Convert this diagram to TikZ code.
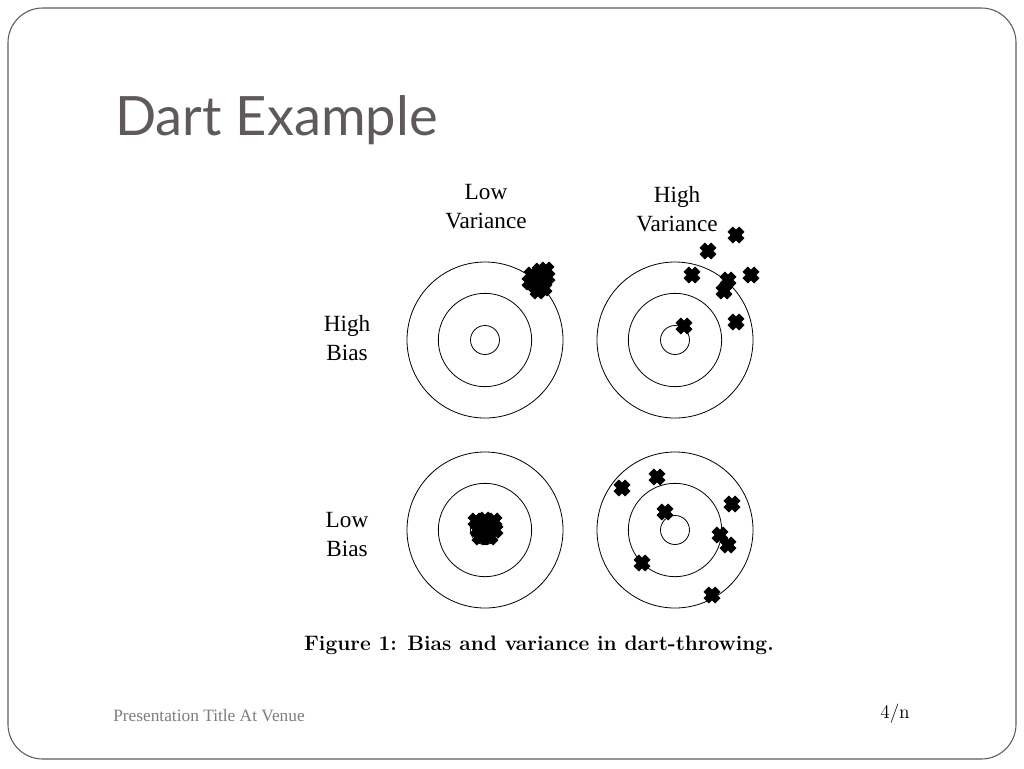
\documentclass[tikz,border=0pt]{standalone}
\usepackage{fontspec}
\newfontfamily\labelfont{Liberation Serif}
\newfontfamily\titlefont{Lato}
\usetikzlibrary{positioning}

\definecolor{titlegray}{RGB}{95,89,89}
\definecolor{framegray}{RGB}{90,90,90}
\definecolor{footgray}{RGB}{125,125,125}

\tikzset{
  dart/.pic={
    \draw[line width=5.6pt] (-5.8,-5.8) -- (5.8,5.8) (-5.8,5.8) -- (5.8,-5.8);
  }
}

\begin{document}
\begin{tikzpicture}[
      x=0.75pt, y=-0.75pt,
      ring/.style={circle, draw, line width=0.6pt, inner sep=0pt},
      axislabel/.style={font=\labelfont\fontsize{17.4}{21.75}\selectfont, align=center, anchor=base, inner sep=0pt}
    ]
    \useasboundingbox (0,0) rectangle (1024,768);

    % Slide frame and title
    \draw[framegray, line width=0.8pt, rounded corners=26pt] (8,8) rectangle (1016,759);
    \node[anchor=base west, inner sep=0pt, text=titlegray, font=\titlefont\fontsize{40.7}{48}\selectfont] (title) at (115,135) {Dart Example};

    % Targets: outer, middle and inner rings
    \foreach \name/\x/\y in {hblv/485/340, hbhv/675/340, lblv/485/530, lbhv/675/530} {
      \node[ring, minimum size=117pt] (\name) at (\x,\y) {};
      \node[ring, minimum size=70pt] (\name-mid) at (\x,\y) {};
      \node[ring, minimum size=21.75pt] (\name-in) at (\x,\y) {};
    }

    % Column and row headings (base = last line)
    \node[axislabel] (lowvar) at (486,228) {Low\\ Variance};
    \node[axislabel] (highvar) at (677,231) {High\\ Variance};
    \node[axislabel] (highbias) at (347,360) {High\\ Bias};
    \node[axislabel] (lowbias) at (347,556) {Low\\ Bias};

    % Darts: high bias, low variance
    \foreach \p in {(532,275),(540,271),(547,277),(535,285),(544,288),(539,280),(530,282),(546,270),(538,291)}
      \pic at \p {dart};
    % Darts: high bias, high variance
    \foreach \p in {(736,235),(708,251),(692,275),(751,275),(728,280),(724,291),(736,322),(684,326)}
      \pic at \p {dart};
    % Darts: low bias, low variance
    \foreach \p in {(476,521),(485,520),(494,521),(478,530),(487,529),(495,530),(480,537),(490,537),(484,526)}
      \pic at \p {dart};
    % Darts: low bias, high variance
    \foreach \p in {(622,488),(657,477),(665,512),(732,504),(720,535),(728,545),(642,563),(712,595)}
      \pic at \p {dart};

    % Caption and footer
    \node[anchor=base, inner sep=0pt, font=\bfseries\fontsize{15.7}{18}\selectfont] (caption) at (539,650) {Figure 1: Bias and variance in dart-throwing.};
    \node[anchor=base west, inner sep=0pt, text=footgray, font=\labelfont\fontsize{13}{15}\selectfont] (footer) at (113,721) {Presentation Title At Venue};
    \node[anchor=base west, inner sep=0pt, font=\fontsize{14.5}{17}\selectfont] (pagenum) at (880,718) {4/n};

  \end{tikzpicture}
\end{document}
